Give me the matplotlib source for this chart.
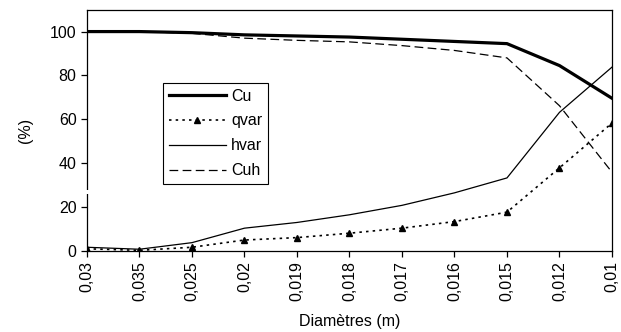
import numpy as np
import matplotlib
matplotlib.use("Agg")
import matplotlib.pyplot as plt

plt.rcParams['font.family'] = ['Liberation Sans', 'DejaVu Sans']
plt.rcParams['font.size'] = 11.5

# diameters (categories, in the order of the original chart)
diametres = ['0,03', '0,035', '0,025', '0,02', '0,019', '0,018',
             '0,017', '0,016', '0,015', '0,012', '0,01']

# series values (%)
cu   = [100, 100, 99.5, 98.5, 98, 97.5, 96.5, 95.5, 94.5, 84.5, 69.6]
qvar = [1.0, 0.3, 1.7, 5.0, 6.1, 8.1, 10.4, 13.4, 17.7, 37.9, 58.3]
hvar = [1.7, 0.8, 3.8, 10.4, 13.0, 16.5, 20.8, 26.5, 33.3, 63.2, 83.8]
cuh  = [100, 100, 99.2, 97.0, 96.0, 95.3, 93.6, 91.4, 88.0, 66.2, 35.9]

x = np.arange(len(diametres))

fig = plt.figure(figsize=(6.21, 3.32), dpi=100)
ax = fig.add_axes([0.140, 0.244, 0.8455, 0.727])

ax.plot(x, cu, 'k-', lw=2.3, label='Cu')
ax.plot(x, qvar, color='k', ls=(0, (1.5, 2.5)), lw=1.2, marker='^', ms=4.5,
        label='qvar')
ax.plot(x, hvar, 'k-', lw=0.9, label='hvar')
ax.plot(x, cuh, color='k', ls=(0, (7, 3.5)), lw=0.9, label='Cuh')

ax.set_xlim(0, len(diametres) - 1)
ax.set_ylim(0, 110)
ax.set_yticks([0, 20, 40, 60, 80, 100])
ax.set_xticks(x)
ax.set_xticklabels(diametres, rotation=90)
ax.tick_params(direction='out', length=4.5, width=0.9, color='k',
               labelsize=11.5, pad=3)
for s in ax.spines.values():
    s.set_linewidth(0.9)

# axis break on the left spine (between 20 and 40)
ax.plot([0, 0], [26.2, 28.0], color='white', lw=3, clip_on=False, zorder=5,
        solid_capstyle='butt', transform=ax.get_yaxis_transform())

ax.set_xlabel('Diamètres (m)', fontsize=11.5, labelpad=9)
ax.set_ylabel('(%)', fontsize=11.5, labelpad=12)

leg = ax.legend(loc='upper left', bbox_to_anchor=(0.145, 0.696),
                handlelength=3.6, fontsize=11.5, fancybox=False, framealpha=1,
                edgecolor='k', borderpad=0.35, labelspacing=0.62,
                handletextpad=0.3, borderaxespad=0)
leg.get_frame().set_linewidth(0.8)

fig.savefig('out.png', dpi=100)
